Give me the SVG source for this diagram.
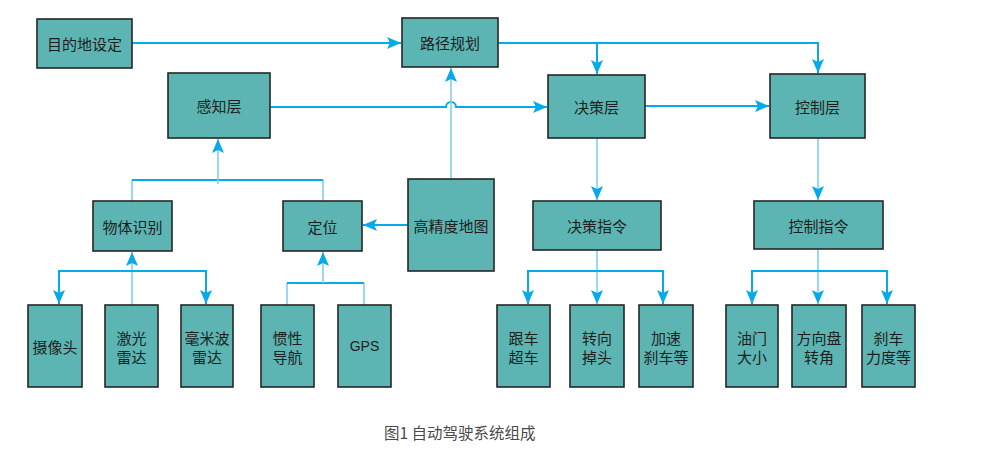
<svg xmlns="http://www.w3.org/2000/svg" width="992" height="459" viewBox="0 0 992 459">
<style>
.box{fill:#5cb5b2;stroke:#262626;stroke-width:1.6}
.t{font-family:"Noto Sans CJK SC","Liberation Sans",sans-serif;font-size:15px;fill:#1e1e1e;text-anchor:middle;dominant-baseline:central}
.c{fill:none;stroke:#05aaea;stroke-width:2}
.l{fill:none;stroke:#7fd0f2;stroke-width:1.6}
.cap{font-family:"Noto Sans CJK SC","Liberation Sans",sans-serif;font-size:15.5px;fill:#4a4a4a}
</style>
<defs>
<marker id="a" viewBox="0 0 14 12" refX="14" refY="6" markerWidth="14" markerHeight="12" markerUnits="userSpaceOnUse" orient="auto">
<path d="M0,0 L14,6 L0,12 L3,6 z" fill="#05aaea"/>
</marker>
</defs>
<g id="connectors">
<path class="c" d="M132,43 H401" marker-end="url(#a)"/>
<path class="c" d="M498,43 H818 V73" marker-end="url(#a)"/>
<path class="c" d="M597,43 V74" marker-end="url(#a)"/>
<path class="c" d="M270,107 H446 A5,5 0 0 1 456,107 H547" marker-end="url(#a)"/>
<path class="c" d="M645,106 H769" marker-end="url(#a)"/>
<path class="l" d="M451,179 V68" marker-end="url(#a)"/>
<path class="l" d="M597,138 V200" marker-end="url(#a)"/>
<path class="l" d="M818,138 V200" marker-end="url(#a)"/>
<path class="l" d="M132,201 V180"/>
<path class="l" d="M323,201 V180"/>
<path class="c" d="M132,180 H323"/>
<path class="l" d="M218,184 V139" marker-end="url(#a)"/>
<path class="c" d="M408,225 H363" marker-end="url(#a)"/>
<path class="l" d="M132,305 V252" marker-end="url(#a)"/>
<path class="c" d="M59,304 V271 H206 V304" marker-end="url(#a)"/>
<path class="c" d="M59,271 V304" marker-end="url(#a)"/>
<path class="l" d="M287,305 V283"/>
<path class="l" d="M364,305 V283"/>
<path class="c" d="M287,283 H364"/>
<path class="l" d="M323,283 V252" marker-end="url(#a)"/>
<path class="l" d="M597,250 V304" marker-end="url(#a)"/>
<path class="c" d="M528,304 V271 H663 V304" marker-end="url(#a)"/>
<path class="c" d="M528,271 V304" marker-end="url(#a)"/>
<path class="l" d="M818,249 V304" marker-end="url(#a)"/>
<path class="c" d="M752,304 V271 H887 V304" marker-end="url(#a)"/>
<path class="c" d="M752,271 V304" marker-end="url(#a)"/>
</g>
<g id="n-dest"><rect class="box" x="37" y="19" width="95" height="49"/><text class="t" x="84.5" y="43.5">目的地设定</text></g>
<g id="n-path"><rect class="box" x="402" y="18" width="96" height="49"/><text class="t" x="450" y="42.5">路径规划</text></g>
<g id="n-perc"><rect class="box" x="168" y="73" width="102" height="65"/><text class="t" x="219" y="105.5">感知层</text></g>
<g id="n-dec"><rect class="box" x="548" y="75" width="97" height="63"/><text class="t" x="596.5" y="106.5">决策层</text></g>
<g id="n-ctl"><rect class="box" x="770" y="74" width="95" height="64"/><text class="t" x="817.5" y="106">控制层</text></g>
<g id="n-obj"><rect class="box" x="93" y="201" width="79" height="50"/><text class="t" x="132.5" y="226">物体识别</text></g>
<g id="n-loc"><rect class="box" x="283" y="201" width="79" height="50"/><text class="t" x="322.5" y="226">定位</text></g>
<g id="n-map"><rect class="box" x="408" y="179" width="86" height="92"/><text class="t" x="451" y="225">高精度地图</text></g>
<g id="n-deccmd"><rect class="box" x="533" y="201" width="128" height="49"/><text class="t" x="597" y="225.5">决策指令</text></g>
<g id="n-ctlcmd"><rect class="box" x="754" y="201" width="129" height="48"/><text class="t" x="818.5" y="225">控制指令</text></g>
<g id="n-cam"><rect class="box" x="28" y="305" width="54" height="82"/><text class="t" x="55" y="346">摄像头</text></g>
<g id="n-lidar"><rect class="box" x="105" y="305" width="53" height="82"/><text class="t" x="131.5" y="337">激光</text><text class="t" x="131.5" y="356">雷达</text></g>
<g id="n-mmw"><rect class="box" x="181" y="305" width="52" height="82"/><text class="t" x="207" y="337">毫米波</text><text class="t" x="207" y="356">雷达</text></g>
<g id="n-ins"><rect class="box" x="261" y="305" width="53" height="82"/><text class="t" x="287.5" y="337">惯性</text><text class="t" x="287.5" y="356">导航</text></g>
<g id="n-gps"><rect class="box" x="338" y="305" width="53" height="82"/><text class="t" x="364.5" y="346" style="font-family:'Liberation Sans',sans-serif;font-size:14px">GPS</text></g>
<g id="n-follow"><rect class="box" x="497" y="305" width="53" height="82"/><text class="t" x="523.5" y="337">跟车</text><text class="t" x="523.5" y="356">超车</text></g>
<g id="n-turn"><rect class="box" x="570" y="305" width="54" height="82"/><text class="t" x="597" y="337">转向</text><text class="t" x="597" y="356">掉头</text></g>
<g id="n-acc"><rect class="box" x="639" y="305" width="54" height="82"/><text class="t" x="666" y="337">加速</text><text class="t" x="666" y="356">刹车等</text></g>
<g id="n-thr"><rect class="box" x="726" y="305" width="52" height="82"/><text class="t" x="752" y="337">油门</text><text class="t" x="752" y="356">大小</text></g>
<g id="n-steer"><rect class="box" x="792" y="305" width="54" height="82"/><text class="t" x="819" y="337">方向盘</text><text class="t" x="819" y="356">转角</text></g>
<g id="n-brake"><rect class="box" x="862" y="305" width="53" height="82"/><text class="t" x="888.5" y="337">刹车</text><text class="t" x="888.5" y="356">力度等</text></g>
<text class="cap" x="384" y="439">图1 自动驾驶系统组成</text>
</svg>
